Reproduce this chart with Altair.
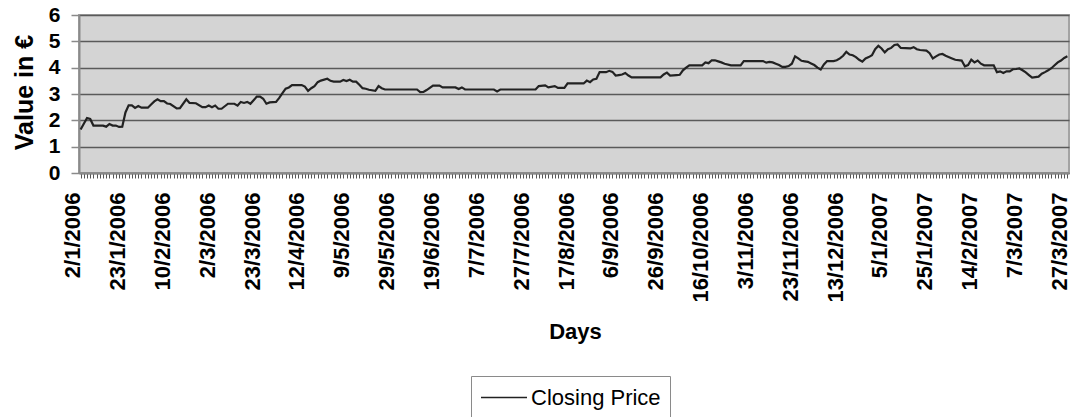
import json
import altair as alt
import pandas as pd

# Trading-day index (0 = 2/1/2006, 308 = 27/3/2007) and closing price in euro
DAY = [
    0, 2, 3, 4, 7, 8, 9, 10, 11, 12, 13, 14, 15, 16, 17, 18, 19, 21, 22, 23,
    24, 25, 26, 27, 28, 30, 31, 33, 34, 36, 38, 39, 40, 41, 42, 43, 44, 46, 48, 49,
    50, 51, 52, 53, 55, 56, 57, 58, 59, 61, 62, 63, 64, 65, 66, 69, 70, 71, 72, 73,
    74, 75, 77, 78, 79, 81, 82, 83, 84, 85, 86, 87, 88, 89, 90, 92, 93, 94, 95, 105,
    106, 107, 108, 110, 112, 113, 117, 118, 119, 120, 129, 130, 131, 142, 143, 145, 146, 148, 149, 151,
    152, 157, 158, 159, 160, 161, 162, 164, 165, 166, 167, 168, 169, 170, 171, 172, 181, 182, 183, 184,
    186, 187, 188, 189, 190, 194, 195, 196, 197, 198, 199, 200, 201, 203, 206, 207, 213, 214, 215, 216,
    217, 218, 219, 220, 221, 222, 223, 224, 225, 226, 227, 228, 229, 230, 231, 232, 233, 235, 236, 237,
    238, 239, 240, 241, 242, 243, 244, 245, 246, 247, 248, 249, 250, 251, 252, 253, 254, 255, 256, 259,
    260, 261, 262, 264, 265, 266, 267, 268, 269, 270, 272, 273, 275, 276, 277, 278, 279, 280, 281, 282,
    285, 286, 287, 288, 289, 290, 291, 292, 293, 294, 295, 296, 297, 298, 299, 300, 301, 302, 303, 304,
    305, 306, 307, 308,
]
CLOSE = [
    1.65, 2.09, 2.05, 1.80, 1.80, 1.76, 1.86, 1.80, 1.80, 1.75, 1.76, 2.30, 2.57, 2.57, 2.47, 2.54, 2.48, 2.48, 2.60, 2.72,
    2.80, 2.73, 2.73, 2.64, 2.62, 2.45, 2.46, 2.80, 2.66, 2.65, 2.50, 2.50, 2.56, 2.50, 2.56, 2.44, 2.44, 2.63, 2.63, 2.56,
    2.70, 2.66, 2.70, 2.63, 2.90, 2.90, 2.82, 2.63, 2.68, 2.70, 2.85, 3.03, 3.20, 3.25, 3.34, 3.34, 3.28, 3.12, 3.22, 3.30,
    3.45, 3.51, 3.58, 3.50, 3.47, 3.47, 3.53, 3.49, 3.54, 3.47, 3.47, 3.35, 3.22, 3.20, 3.16, 3.12, 3.30, 3.22, 3.17, 3.17,
    3.07, 3.08, 3.15, 3.32, 3.32, 3.25, 3.25, 3.19, 3.25, 3.17, 3.17, 3.10, 3.17, 3.17, 3.30, 3.33, 3.25, 3.30, 3.23, 3.23,
    3.40, 3.40, 3.51, 3.45, 3.55, 3.58, 3.83, 3.83, 3.88, 3.84, 3.70, 3.72, 3.74, 3.80, 3.70, 3.63, 3.63, 3.74, 3.81, 3.70,
    3.72, 3.73, 3.90, 4.00, 4.09, 4.09, 4.20, 4.17, 4.28, 4.28, 4.24, 4.20, 4.15, 4.09, 4.09, 4.25, 4.25, 4.19, 4.22, 4.20,
    4.15, 4.10, 4.03, 4.03, 4.06, 4.15, 4.43, 4.35, 4.26, 4.24, 4.22, 4.16, 4.10, 4.00, 3.93, 4.12, 4.25, 4.25, 4.28, 4.35,
    4.45, 4.60, 4.50, 4.47, 4.40, 4.30, 4.23, 4.35, 4.40, 4.47, 4.70, 4.83, 4.73, 4.58, 4.70, 4.75, 4.86, 4.88, 4.75, 4.73,
    4.78, 4.70, 4.67, 4.65, 4.55, 4.35, 4.43, 4.50, 4.52, 4.45, 4.35, 4.30, 4.27, 4.05, 4.10, 4.30, 4.20, 4.27, 4.15, 4.09,
    4.09, 3.83, 3.86, 3.80, 3.86, 3.86, 3.94, 3.95, 3.97, 3.90, 3.82, 3.72, 3.62, 3.64, 3.66, 3.77, 3.83, 3.90, 3.98, 4.09,
    4.20, 4.27, 4.37, 4.43,
]

# Every 14th trading day carries a date label
TICK_LABELS = [
    "2/1/2006", "23/1/2006", "10/2/2006", "2/3/2006", "23/3/2006", "12/4/2006",
    "9/5/2006", "29/5/2006", "19/6/2006", "7/7/2006", "27/7/2006", "17/8/2006",
    "6/9/2006", "26/9/2006", "16/10/2006", "3/11/2006", "23/11/2006", "13/12/2006",
    "5/1/2007", "25/1/2007", "14/2/2007", "7/3/2007", "27/3/2007",
]
N_DAYS = 309
LABEL_STEP = 14

df = pd.DataFrame({"day": DAY, "close": CLOSE, "series": "Closing Price"})

label_expr = (
    f"datum.value % {LABEL_STEP} === 0 ? "
    f"{json.dumps(TICK_LABELS)}[datum.value / {LABEL_STEP}] : ''"
)

FONT = "Liberation Sans"

# A long flat line for the legend key; the path is scaled by sqrt(size)/2
LEGEND_KEY_PATH = "M-1,0H3"

chart = (
    alt.Chart(df)
    .mark_line(strokeWidth=2.2, interpolate="linear")
    .encode(
        x=alt.X(
            "day:Q",
            scale=alt.Scale(domain=[-0.5, N_DAYS - 0.5], nice=False, zero=False),
            axis=alt.Axis(
                title="Days",
                values=list(range(N_DAYS)),
                labelExpr=label_expr,
                labelAngle=270,
                labelAlign="right",
                labelBaseline="middle",
                labelFontSize=22,
                labelFontWeight="bold",
                labelColor="#000000",
                labelPadding=14,
                labelOverlap=False,
                labelFlush=False,
                labelOffset=-8,
                tickSize=5,
                tickColor="#555555",
                tickWidth=1,
                domainColor="#8a8a8a",
                domainWidth=2,
                grid=False,
                titleFontSize=22,
                titleFontWeight="bold",
                titleColor="#000000",
                titleX=496,
                titleY=165,
                titleAlign="center",
                titleBaseline="alphabetic",
            ),
        ),
        y=alt.Y(
            "close:Q",
            scale=alt.Scale(domain=[0, 6], nice=False),
            axis=alt.Axis(
                title="Value in €",
                values=[0, 1, 2, 3, 4, 5, 6],
                format="d",
                labelFontSize=21,
                labelFontWeight="bold",
                labelColor="#000000",
                labelPadding=11,
                tickSize=8,
                tickColor="#8a8a8a",
                tickWidth=1.5,
                domainColor="#8a8a8a",
                domainWidth=2,
                grid=True,
                gridColor="#5a5a5a",
                gridWidth=1.5,
                titleFontSize=25,
                titleFontWeight="bold",
                titleColor="#000000",
                titleAngle=270,
                titleX=-47,
                titleY=77,
                titleAlign="center",
                titleBaseline="alphabetic",
            ),
        ),
        color=alt.Color(
            "series:N",
            scale=alt.Scale(range=["#222222"]),
            legend=alt.Legend(
                title=None,
                orient="none",
                legendX=392,
                legendY=361,
                labelFontSize=22,
                labelColor="#000000",
                labelOffset=26,
                symbolType=LEGEND_KEY_PATH,
                symbolSize=529,
                symbolStrokeWidth=1.5,
                padding=9,
                strokeColor="#8a8a8a",
                fillColor="#ffffff",
            ),
        ),
    )
    .properties(
        width=990,
        height=158,
        autosize=alt.AutoSizeParams(type="none"),
        padding={"left": 79, "top": 15, "right": 3, "bottom": 244},
    )
    .configure(font=FONT)
    .configure_view(fill="#d4d4d4", stroke="#a3a3a3", strokeWidth=2)
)

chart.save("out.html", embed_options={"renderer": "svg", "actions": False})
